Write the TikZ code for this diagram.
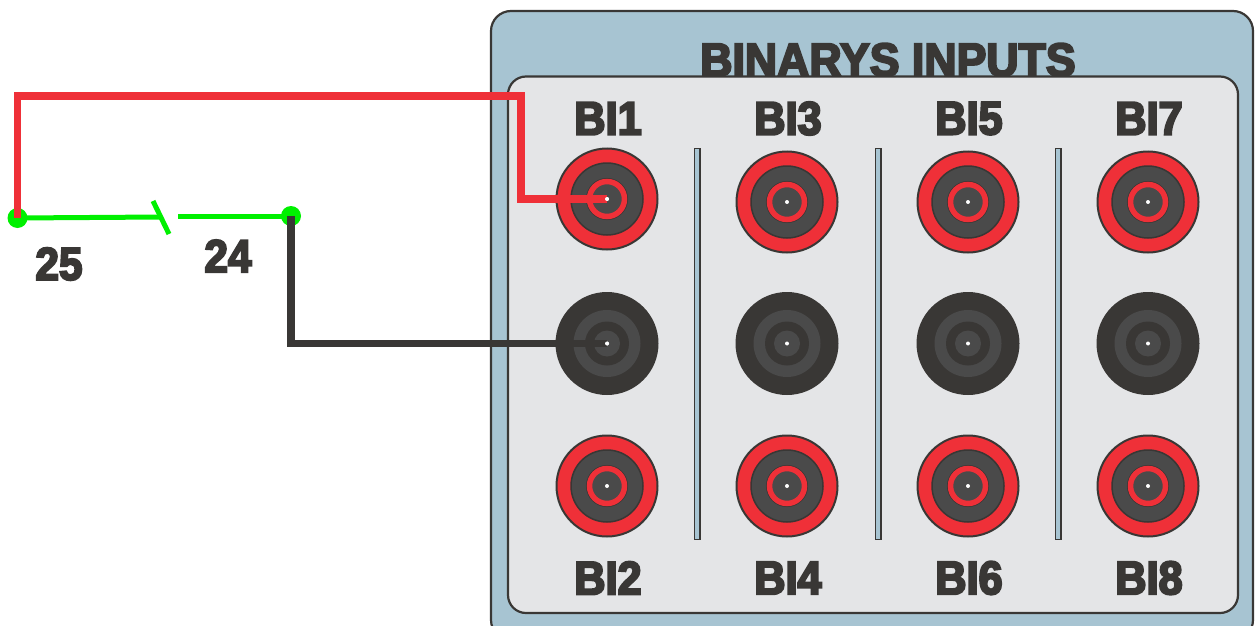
\documentclass[tikz,border=0pt]{standalone}
\usepackage{fontspec}
\newfontfamily\heavy[FakeBold=4.5,FakeStretch=0.92]{Liberation Sans Bold}
\newfontfamily\heavytitle[FakeBold=4.5,FakeStretch=0.95]{Liberation Sans Bold}
\definecolor{ink}{HTML}{393735}
\definecolor{mid}{HTML}{4A4A4A}
\definecolor{jackred}{HTML}{EF3038}
\definecolor{panelblue}{HTML}{A7C4D2}
\definecolor{panelgrey}{HTML}{E4E5E7}
\definecolor{wiregreen}{HTML}{00F000}
\tikzset{
  x=1pt,y=-1pt,
  lab/.style={inner sep=0,text=ink,font=\heavy\fontsize{47}{47}\selectfont},
  ttl/.style={inner sep=0,text=ink,font=\heavytitle\fontsize{47}{47}\selectfont},
  num/.style={inner sep=0,text=ink,font=\heavy\fontsize{46}{46}\selectfont},
  divider/.style={draw=ink,line width=1.8pt,fill=panelblue},
  wirered/.style={draw=jackred,line width=7.5pt,miter limit=10},
  wireblack/.style={draw=ink,line width=7.5pt},
  wiregr/.style={draw=wiregreen,line width=5pt},
  dot/.style={circle,fill=wiregreen,inner sep=0,minimum size=20pt},
}
\newcommand{\redjack}[3]{%
  \node[circle,draw=ink,line width=2pt,fill=jackred,minimum size=101pt,inner sep=0] (#1) at (#2,#3) {};
  \fill[draw=ink,line width=1.5pt,fill=mid] (#2,#3) circle[radius=36];
  \fill[draw=ink,line width=7pt,fill=mid] (#2,#3) circle[radius=17.5];
  \fill[draw=jackred,line width=5.5pt,fill=mid] (#2,#3) circle[radius=17.5];
  \fill[white] (#2,#3) circle[radius=2];
}
\newcommand{\blackjack}[3]{%
  \node[circle,fill=ink,minimum size=103pt,inner sep=0] (#1) at (#2,#3) {};
  \fill[mid] (#2,#3) circle[radius=33.5];
  \fill[ink] (#2,#3) circle[radius=22];
  \fill[mid] (#2,#3) circle[radius=13];
  \fill[white] (#2,#3) circle[radius=2];
}
\begin{document}
\begin{tikzpicture}
\useasboundingbox (0,0) rectangle (1255,626);
\begin{scope}
\clip (0,0) rectangle (1255,626);
\draw[ink,line width=2.2pt,fill=panelblue,rounded corners=20] (491,11) rectangle (1253,640);
\end{scope}
\node[ttl] (title) at (888,60) {BINARYS INPUTS};
\draw[ink,line width=2.2pt,fill=panelgrey,rounded corners=18] (508,76.5) rectangle (1238,613);
\foreach \x/\n in {697/a,878/b,1058/c}
  \draw[divider] (\x-2.6,148.5) rectangle (\x+2.6,539.5);
\redjack{bi1}{607}{199}
\redjack{bi3}{787}{202}
\redjack{bi5}{968}{202}
\redjack{bi7}{1148}{202}
\blackjack{c1}{607}{343.5}
\blackjack{c3}{787}{343.5}
\blackjack{c5}{968}{343.5}
\blackjack{c7}{1148}{343.5}
\redjack{bi2}{607}{486}
\redjack{bi4}{787}{486}
\redjack{bi6}{968}{486}
\redjack{bi8}{1148}{486}
\node[lab] (l1) at (608,118.5) {BI1};
\node[lab] (l3) at (788,118.5) {BI3};
\node[lab] (l5) at (969,118.5) {BI5};
\node[lab] (l7) at (1149,118.5) {BI7};
\node[lab] (l2) at (608,578) {BI2};
\node[lab] (l4) at (788,578) {BI4};
\node[lab] (l6) at (969,578) {BI6};
\node[lab] (l8) at (1149,578) {BI8};
\node[num] (n25) at (59,264) {25};
\node[num] (n24) at (228,256) {24};
\node[dot] (p25) at (17.5,218) {};
\node[dot] (p24) at (291,216) {};
\coordinate (s1) at (153,201);
\coordinate (s2) at (169,234);
\coordinate (g1) at (161,217);
\coordinate (g2) at (178,216);
\draw[wiregr] (p25.center) -- (g1);
\draw[wiregr] (s1) -- (s2);
\draw[wiregr] (g2) -- (p24.center);
\draw[wirered] (p25.center) |- (521,96) |- (bi1.center);
\draw[wireblack] (p24.center) |- (c1.center);
\fill[white] (bi1.center) circle[radius=2];
\fill[white] (c1.center) circle[radius=2];
\end{tikzpicture}
\end{document}
